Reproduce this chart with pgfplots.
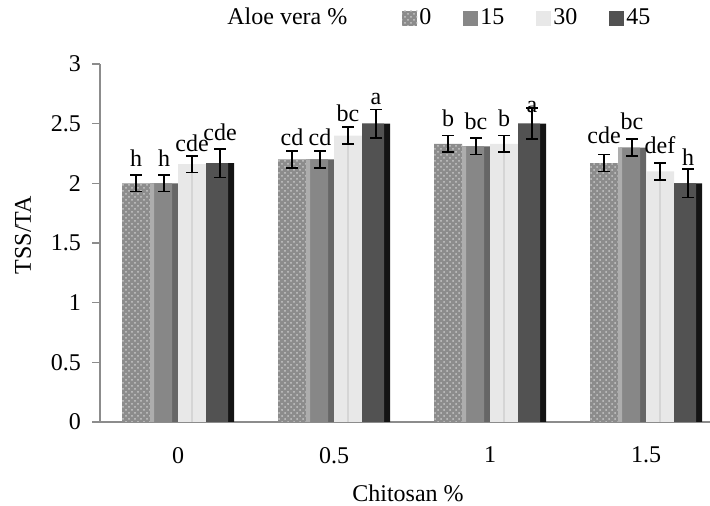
\documentclass[border=0pt]{standalone}
\usepackage{fontspec}
\setmainfont{Liberation Serif}
\usepackage{pgfplots}
\pgfplotsset{compat=1.18}
\usepackage{pgfplotstable}
\usetikzlibrary{patterns}

% x: Chitosan level index, y: TSS/TA, err: error, ly: label baseline, lab: letters
\pgfplotstableread{
x y err ly lab
0 2.00 0.07 2.14 h
1 2.20 0.07 2.32 cd
2 2.33 0.07 2.48 b
3 2.17 0.07 2.335 cde
}\alA
\pgfplotstableread{
x y err ly lab
0 2.00 0.07 2.14 h
1 2.20 0.07 2.32 cd
2 2.31 0.07 2.45 bc
3 2.30 0.07 2.455 bc
}\alB
\pgfplotstableread{
x y err ly lab
0 2.16 0.07 2.265 cde
1 2.40 0.07 2.52 bc
2 2.33 0.07 2.48 b
3 2.10 0.07 2.25 def
}\alC
\pgfplotstableread{
x y err ly lab
0 2.17 0.12 2.36 cde
1 2.50 0.12 2.66 a
2 2.50 0.13 2.59 a
3 2.00 0.12 2.15 h
}\alD

\pgfplotsset{
  errlab/.style={
    draw=none, fill=none, forget plot,
    error bars/y dir=both, error bars/y explicit,
    error bars/error mark=|,
    error bars/error bar style={draw=black, line width=0.8pt},
    error bars/error mark options={draw=black, line width=0.8pt, mark size=3pt},
    nodes near coords, point meta=explicit symbolic,
    visualization depends on={(\thisrow{ly}-\thisrow{y})*59.667 \as \dy},
    nodes near coords style={anchor=base, inner sep=0pt, yshift=\dy pt, text=black},
  },
  sA/.style={draw=none, fill=black!45, postaction={pattern=crosshatch dots, pattern color=black!22}},
  sB/.style={draw=none, fill=black!47},
  sC/.style={draw=none, fill=black!9},
  sD/.style={draw=none, fill=black!68},
}

\begin{document}
\begin{tikzpicture}
\useasboundingbox (0,0) rectangle (355pt,253pt);
\begin{axis}[
  at={(50pt,42pt)}, anchor=south west,
  scale only axis, width=305pt, height=179pt,
  font=\fontsize{12}{14}\selectfont,
  /pgf/number format/assume math mode=true,
  xmin=-0.5, xmax=3.41, ymin=0, ymax=3,
  axis x line*=bottom, axis y line*=left,
  axis line style={black!45, line width=0.7pt},
  ybar, bar width=14pt,
  xtick={0,1,2,3}, xticklabels={0,0.5,1,1.5},
  xtick style={draw=none},
  xticklabel style={yshift=-5pt},
  ytick={0,0.5,1,1.5,2,2.5,3},
  yticklabels={0,0.5,1,1.5,2,2.5,3},
  tick align=outside, major tick length=4pt,
  ytick style={black!45, line width=0.7pt},
  yticklabel style={xshift=-2pt},
  xlabel={Chitosan \%},
  xlabel style={at={(axis description cs:0.505,-0.2207)}, anchor=base},
  ylabel={TSS/TA},
  ylabel style={at={(axis description cs:-0.1262,0.5223)}, anchor=center},
  legend columns=5,
  legend image code/.code={\fill[#1] (0pt,-3.75pt) rectangle (7.5pt,3.75pt);},
  legend style={at={(axis description cs:0.195,1.128)}, anchor=west,
    draw=none, fill=none, nodes={inner sep=1pt},
    /tikz/every even column/.append style={column sep=15pt}},
]
\addlegendimage{empty legend}
\addlegendentry{Aloe vera \%\rule{11.5pt}{0pt}}
\addlegendimage{sA}\addlegendentry{0}
\addlegendimage{sB}\addlegendentry{15}
\addlegendimage{sC}\addlegendentry{30}
\addlegendimage{sD}\addlegendentry{45}

% Aloe vera 0 %
\addplot[sA, forget plot, bar shift=-21pt] table[x=x, y=y] {\alA};
\addplot[errlab, bar shift=-21pt] table[x=x, y=y, y error=err, meta=lab] {\alA};
% Aloe vera 15 %
\addplot[forget plot, draw=none, fill=black!60, bar shift=-7pt] table[x=x, y=y] {\alB};
\addplot[forget plot, draw=none, fill=black!47, bar width=10pt, bar shift=-8pt] table[x=x, y=y] {\alB};
\addplot[forget plot, draw=none, fill=black!32, bar width=2pt, bar shift=-13pt] table[x=x, y=y] {\alB};
\addplot[errlab, bar shift=-7pt] table[x=x, y=y, y error=err, meta=lab] {\alB};
% Aloe vera 30 %
\addplot[sC, forget plot, bar shift=7pt] table[x=x, y=y] {\alC};
\addplot[forget plot, draw=none, fill=black!20, bar width=0.6pt, bar shift=7pt] table[x=x, y=y] {\alC};
\addplot[errlab, bar shift=7pt] table[x=x, y=y, y error=err, meta=lab] {\alC};
% Aloe vera 45 %
\addplot[forget plot, draw=none, fill=black!92, bar shift=21pt] table[x=x, y=y] {\alD};
\addplot[forget plot, draw=none, fill=black!68, bar width=11pt, bar shift=19.5pt] table[x=x, y=y] {\alD};
\addplot[errlab, bar shift=21pt] table[x=x, y=y, y error=err, meta=lab] {\alD};
\end{axis}
\end{tikzpicture}
\end{document}
